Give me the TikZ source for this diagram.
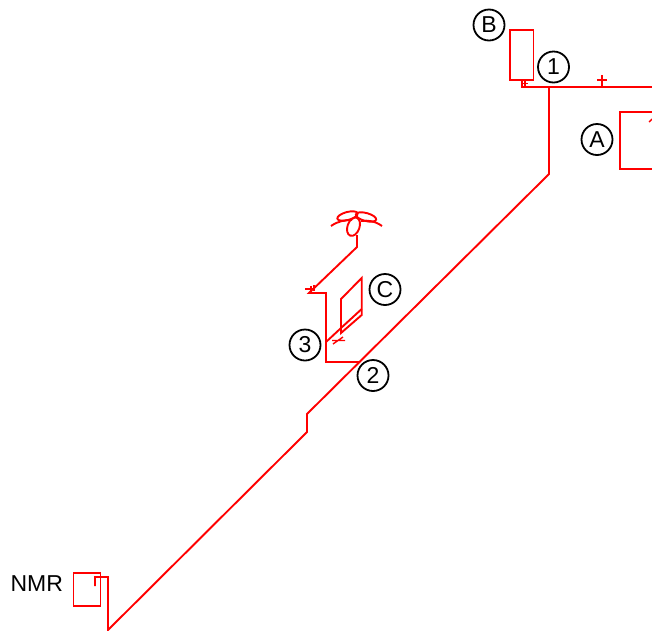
\documentclass[tikz,border=0pt]{standalone}
\usepackage{fontspec}
\setmainfont{Liberation Sans}
\tikzset{
  pipe/.style={draw=red, line width=1.9pt, line join=miter},
  thinpipe/.style={draw=red, line width=1.4pt},
  lbl/.style={circle, draw=black, line width=1.8pt, minimum size=31pt, inner sep=0pt, font=\fontsize{23}{23}\selectfont}
}
\begin{document}
\begin{tikzpicture}[x=1pt, y=-1pt]
\useasboundingbox (0,0) rectangle (652,630);

% main line
\path (549,87) coordinate (top) (522,87) coordinate (stub) (652,87) coordinate (rightend);
\draw [pipe] (rightend) -- (stub) -- ++(0,-6);
\draw [pipe] (top) -- ++(0,87) -- (307,414) -- ++(0,18) -- (108,630) -- (108,577) -- (95,577) -- (95,586);
\draw [pipe] (602,87) -- ++(0,-12) (597,80) -- ++(10,0);
\draw [thinpipe] (522,83.5) -- ++(6,0) (525,81) -- ++(0,5);

% vessels
\draw [pipe] (510,30) rectangle (533.5,80);
\draw [pipe] (652,112) -- (620,112) -- (620,169) -- (652,169);
\draw [thinpipe] (652,119) -- (649,122);
\draw [pipe] (73.5,573) rectangle (100.5,606);

% branch
\draw [pipe] (360,362) -- (326,362) -- (326,293) -- (309,293) -- (357,247) -- (357,235);
\draw [thinpipe] (305,289) -- ++(10,0) (311,286) -- ++(0,6) (314,285) -- ++(0,6);
\draw [pipe] (326,342) -- (341,328) -- (361.7,309);
\draw [pipe] (361.7,315) -- (361.7,278) -- (341,299) -- (341,333) -- cycle;
\draw [thinpipe] (332,340.5) -- ++(13,0) (333,344) -- ++(10,-7);

% fan
\draw [pipe] (353.5,226.7) ellipse [x radius=6, y radius=9.5, rotate=-20];
\draw [pipe] (347.5,216) ellipse [x radius=10.5, y radius=4, rotate=15];
\draw [pipe] (366,217) ellipse [x radius=10.5, y radius=4, rotate=-15];
\draw [pipe] (331,226) .. controls (338,221) and (345,220) .. (352,220);
\draw [pipe] (382,226) .. controls (375,221) and (368,220) .. (361,221);

% labels
\node [lbl] (lblB) at (489,25) {B};
\node [lbl] (lblone) at (553.5,67) {1};
\node [lbl] (lblA) at (597,139.5) {A};
\node [lbl] (lblC) at (385,289.5) {C};
\node [lbl] (lblthree) at (305,345) {3};
\node [lbl] (lbltwo) at (373,375.5) {2};
\node [font=\fontsize{23}{23}\selectfont, anchor=east] (lblnmr) at (66.5,584) {NMR};
\end{tikzpicture}
\end{document}
